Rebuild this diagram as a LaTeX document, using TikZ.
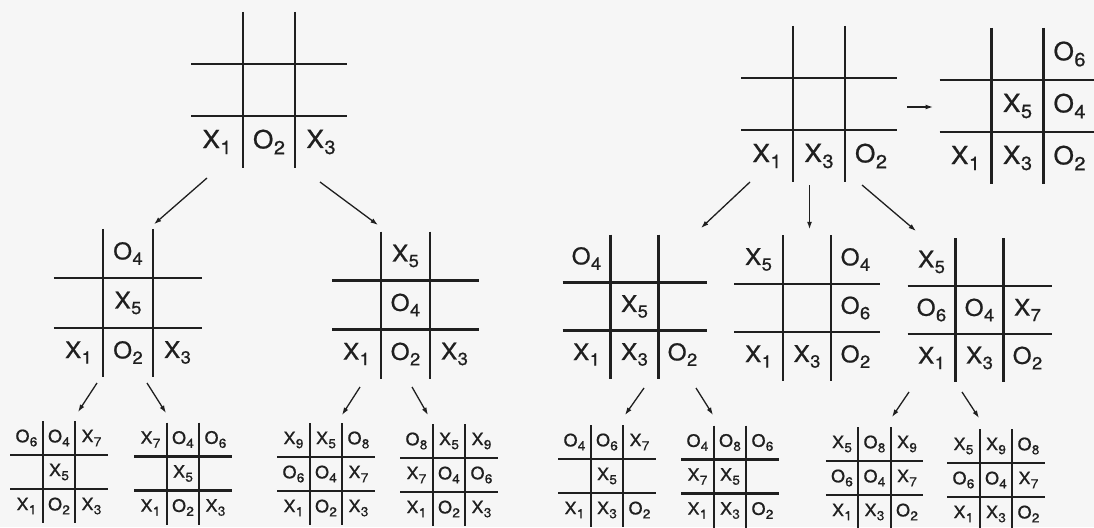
\documentclass[tikz,border=0pt]{standalone}
\usepackage{fontspec}
\setmainfont{TeX Gyre Heros}[FakeStretch=1.05,FakeBold=0.8]
\usepackage{graphicx}
\usetikzlibrary{matrix,calc,arrows.meta}
\definecolor{ink}{gray}{0.12}
\definecolor{paper}{gray}{0.965}
\newcommand\cX[1]{X\kern0.02em\raisebox{-0.24em}{\scalebox{0.76}{#1}}}
\newcommand\cO[1]{O\kern0.02em\raisebox{-0.24em}{\scalebox{0.76}{#1}}}
\newcommand\gridof[1]{%
  \draw[gridline] (#1-1-1.north east) -- (#1-3-1.south east);
  \draw[gridline] (#1-1-2.north east) -- (#1-3-2.south east);
  \draw[gridline] (#1-1-1.south west) -- (#1-1-3.south east);
  \draw[gridline] (#1-2-1.south west) -- (#1-2-3.south east);}
\tikzset{
  board/.style n args={3}{matrix of nodes, nodes in empty cells,
    inner sep=0pt, outer sep=0pt, row sep=0pt, column sep=0pt,
    nodes={anchor=center, inner sep=0pt, outer sep=0pt, minimum width=#1, minimum height=#2,
      text=ink, font=\fontsize{#3}{#3}\selectfont}},
  bigboard/.style={board={52}{52}{25pt}},
  midboard/.style={board={#1}{#1}{23pt}},
  smallboard/.style={board={32.5}{34}{17pt}},
  gridline/.style={draw=ink, line width=2.1pt},
  arr/.style={draw=ink, line width=1.3pt, -{Latex[length=7.5pt,width=5pt]}}
}
\begin{document}
\begin{tikzpicture}[x=1pt,y=-1pt]
\fill[paper] (0,0) rectangle (1094,527);
\useasboundingbox (0,0) rectangle (1094,527);

% top row
\matrix (tl) at (269,90) [bigboard] {
  & & \\
  & & \\
  \cX{1} & \cO{2} & \cX{3} \\
};
\matrix (tra) at (819,104) [bigboard] {
  & & \\
  & & \\
  \cX{1} & \cX{3} & \cO{2} \\
};
\matrix (trb) at (1017.5,106) [bigboard] {
  & & \cO{6} \\
  & \cX{5} & \cO{4} \\
  \cX{1} & \cX{3} & \cO{2} \\
};

% middle row
\matrix (ml) at (128,303) [midboard=49.5] {
  & \cO{4} & \\
  & \cX{5} & \\
  \cX{1} & \cO{2} & \cX{3} \\
};
\matrix (mm) at (405.5,305) [midboard=49] {
  & \cX{5} & \\
  & \cO{4} & \\
  \cX{1} & \cO{2} & \cX{3} \\
};
\matrix (ma) at (634.5,306.5) [midboard=48] {
  \cO{4} & & \\
  & \cX{5} & \\
  \cX{1} & \cX{3} & \cO{2} \\
};
\matrix (mb) at (807,308) [midboard=48.5] {
  \cX{5} & & \cO{4} \\
  & & \cO{6} \\
  \cX{1} & \cX{3} & \cO{2} \\
};
\matrix (mc) at (979.5,310) [midboard=48] {
  \cX{5} & & \\
  \cO{6} & \cO{4} & \cX{7} \\
  \cX{1} & \cX{3} & \cO{2} \\
};

% bottom row
\matrix (ba) at (59,472) [smallboard] {
  \cO{6} & \cO{4} & \cX{7} \\
  & \cX{5} & \\
  \cX{1} & \cO{2} & \cX{3} \\
};
\matrix (bb) at (183,473.5) [smallboard] {
  \cX{7} & \cO{4} & \cO{6} \\
  & \cX{5} & \\
  \cX{1} & \cO{2} & \cX{3} \\
};
\matrix (bc) at (326,474) [smallboard] {
  \cX{9} & \cX{5} & \cO{8} \\
  \cO{6} & \cO{4} & \cX{7} \\
  \cX{1} & \cO{2} & \cX{3} \\
};
\matrix (bd) at (449,475) [smallboard] {
  \cO{8} & \cX{5} & \cX{9} \\
  \cX{7} & \cO{4} & \cO{6} \\
  \cX{1} & \cO{2} & \cX{3} \\
};
\matrix (be) at (607,476) [smallboard] {
  \cO{4} & \cO{6} & \cX{7} \\
  & \cX{5} & \\
  \cX{1} & \cX{3} & \cO{2} \\
};
\matrix (bf) at (730,476.5) [smallboard] {
  \cO{4} & \cO{8} & \cO{6} \\
  \cX{7} & \cX{5} & \\
  \cX{1} & \cX{3} & \cO{2} \\
};
\matrix (bg) at (874.5,478) [smallboard] {
  \cX{5} & \cO{8} & \cX{9} \\
  \cO{6} & \cO{4} & \cX{7} \\
  \cX{1} & \cX{3} & \cO{2} \\
};
\matrix (bh) at (996,480) [smallboard] {
  \cX{5} & \cX{9} & \cO{8} \\
  \cO{6} & \cO{4} & \cX{7} \\
  \cX{1} & \cX{3} & \cO{2} \\
};

\gridof{tl}\gridof{tra}\gridof{trb}
\gridof{ml}\gridof{mm}\gridof{ma}\gridof{mb}\gridof{mc}
\gridof{ba}\gridof{bb}\gridof{bc}\gridof{bd}
\gridof{be}\gridof{bf}\gridof{bg}\gridof{bh}

% arrows
\draw[arr] ($(tl.south)+(-62,10)$) -- ($(ml.north)+(26,-4.5)$);
\draw[arr] ($(tl.south)+(51,14)$) -- ($(mm.north)+(-27.5,-6.5)$);
\draw[arr] ($(tra.south)+(-69,0)$) -- ($(ma.north)+(66.5,-6.5)$);
\draw[arr] ($(tra.south)+(-9.5,3)$) -- ($(mb.north)+(2.5,-6)$);
\draw[arr] ($(tra.south)+(43,3)$) -- ($(mc.north)+(-63.5,-7)$);
\draw[arr] ($(tra.east)+(10,3)$) -- ($(trb.west)+(-6.5,1)$);

\draw[arr] ($(ml.south)+(-31,5.75)$) -- ($(ba.north)+(19,-9)$);
\draw[arr] ($(ml.south)+(19,5.75)$) -- ($(bb.north)+(-17,-9.5)$);
\draw[arr] ($(mm.south)+(-45.5,8.5)$) -- ($(bc.north)+(16,-8)$);
\draw[arr] ($(mm.south)+(6.5,8.5)$) -- ($(bd.north)+(-21,-9)$);
\draw[arr] ($(ma.south)+(9.5,9.5)$) -- ($(be.north)+(18,-10)$);
\draw[arr] ($(ma.south)+(61.5,9.5)$) -- ($(bf.north)+(-17,-10.5)$);
\draw[arr] ($(mc.south)+(-70.5,10)$) -- ($(bg.north)+(17.5,-10)$);
\draw[arr] ($(mc.south)+(-17.5,10)$) -- ($(bh.north)+(-17,-11)$);
\end{tikzpicture}
\end{document}
